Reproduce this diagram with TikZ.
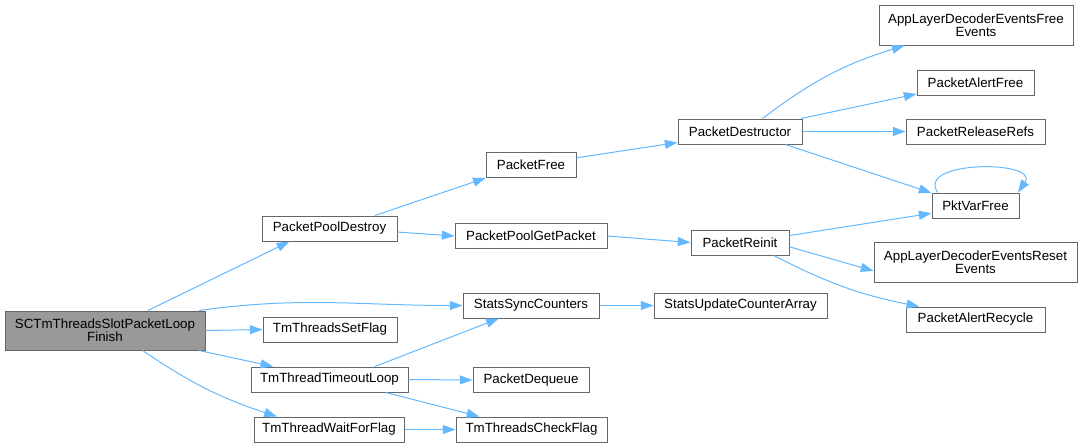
\documentclass[tikz,border=0pt]{standalone}
\usepackage{fontspec}
\setmainfont{Liberation Sans}
\usepackage{tikz}
\usepackage{xcolor}
\usetikzlibrary{arrows.meta, positioning, calc}
\definecolor{edgeblue}{HTML}{63B8FF}
\definecolor{boxgray}{HTML}{666666}
\definecolor{rootgray}{HTML}{999999}

\begin{document}
\begin{tikzpicture}[x=0.75pt, y=-0.75pt,
  >={Triangle[length=9.5pt,width=6.75pt]},
  fn/.style={draw=boxgray, line width=0.75pt, fill=white, inner sep=0pt,
    minimum height=18.75pt, align=center, font=\fontsize{10}{9.75}\selectfont},
  call/.style={->, draw=edgeblue, line width=0.75pt}]
\useasboundingbox (0,0) rectangle (1083,447);
% Call graph of the packet loop finish routine
\node[fn, fill=rootgray, minimum width=150pt, minimum height=29.25pt] (sc) at (105,330.5) {SCTmThreadsSlotPacketLoop\\Finish};

\node[fn, minimum width=101.25pt] (ppd) at (329.5,228.5) {PacketPoolDestroy};
\node[fn, minimum width=100.5pt] (tsf) at (330,329.5) {TmThreadsSetFlag};
\node[fn, minimum width=117.75pt] (ttl) at (329.5,379.5) {TmThreadTimeoutLoop};
\node[fn, minimum width=112.5pt] (twf) at (329,429.5) {TmThreadWaitForFlag};

\node[fn, minimum width=67.5pt] (pf) at (531,165) {PacketFree};
\node[fn, minimum width=114pt] (ppgp) at (531,236) {PacketPoolGetPacket};
\node[fn, minimum width=102pt] (ssc) at (531,305.5) {StatsSyncCounters};
\node[fn, minimum width=87pt] (pdq) at (531,380) {PacketDequeue};
\node[fn, minimum width=113.25pt] (tcf) at (531.5,429.5) {TmThreadsCheckFlag};

\node[fn, minimum width=93pt] (pd) at (740,131.5) {PacketDestructor};
\node[fn, minimum width=73.5pt] (pr) at (740,242.5) {PacketReinit};
\node[fn, minimum width=129.75pt] (suca) at (740.5,305.5) {StatsUpdateCounterArray};

\node[fn, minimum width=145.5pt, minimum height=30pt] (alfe) at (976,25) {AppLayerDecoderEventsFree\\Events};
\node[fn, minimum width=87.75pt] (paf) at (975.5,82.5) {PacketAlertFree};
\node[fn, minimum width=104.25pt] (prr) at (975.5,131.5) {PacketReleaseRefs};
\node[fn, minimum width=65.25pt] (pvf) at (975.5,205.5) {PktVarFree};
\node[fn, minimum width=152.25pt, minimum height=30pt] (alre) at (975.5,262) {AppLayerDecoderEventsReset\\Events};
\node[fn, minimum width=104.25pt] (par) at (975.5,319.5) {PacketAlertRecycle};

\draw[call] (sc.25) -- (ppd.198);
\draw[call] (sc.12) to[out=8, in=180] (ssc.west);
\draw[call] (sc.east) -- (tsf.west);
\draw[call] (sc.-12) -- (ttl.167);
\draw[call] (sc.-28) to[bend right=8] (twf.166);

\draw[call] (ppd.16) -- (pf.196);
\draw[call] (ppd.-3) -- (ppgp.west);
\draw[call] (pf.9) -- (pd.190);
\draw[call] (ppgp.east) -- (pr.west);

\draw[call] (pd.30) to[bend left=10] (alfe.196);
\draw[call] (pd.12) -- (paf.191);
\draw[call] (pd.east) -- (prr.west);
\draw[call] (pd.-16) -- (pvf.164);
\draw[call] (pvf.161) .. controls (915,160) and (1040,160) .. (pvf.17);

\draw[call] (pr.8) -- (pvf.190);
\draw[call] (pr.-5) -- (alre.185);
\draw[call] (pr.-21) to[bend right=8] (par.167);

\draw[call] (ssc.east) -- (suca.west);
\draw[call] (ttl.16) -- (ssc.202);
\draw[call] (ttl.east) -- (pdq.west);
\draw[call] (ttl.-13) -- (tcf.166);
\draw[call] (twf.east) -- (tcf.west);
\end{tikzpicture}
\end{document}
